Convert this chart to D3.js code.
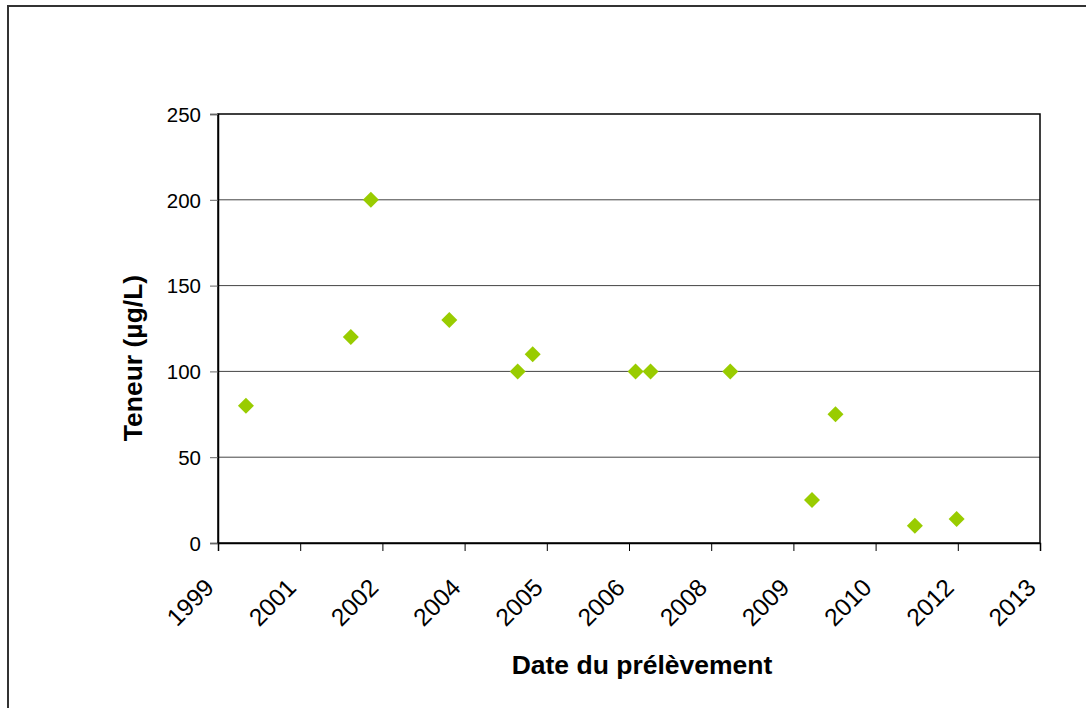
<!DOCTYPE html>
<html>
<head>
<meta charset="utf-8">
<script src="https://cdn.jsdelivr.net/npm/d3@7"></script>
<style>
  body { margin: 0; background: #fff; }
  svg text { font-family: "Liberation Sans", Arial, sans-serif; fill: #000; }
</style>
</head>
<body>
<script>
// sample dates (Excel date axis, major unit 500 days) and values in µg/L
var sampleDates = ["2000-05-28", "2002-02-25", "2002-06-27", "2003-10-17", "2004-12-06",
                   "2005-03-07", "2006-11-23", "2007-02-22", "2008-06-21", "2009-10-31",
                   "2010-03-23", "2011-07-19", "2012-03-29"];
var sampleValues = [80, 120, 200, 130, 100, 110, 100, 100, 100, 25, 75, 10, 14];
var axisStart = "1999-12-10";
var axisStepDays = 500;
var axisSteps = 10;
var yTicks = [0, 50, 100, 150, 200, 250];

var width = 1091,
    height = 708;

var parse = d3.timeParse("%Y-%m-%d");
var data = sampleDates.map(function(d, i) {
  return { date: parse(d), value: sampleValues[i] };
});

var start = parse(axisStart);
var xTicks = d3.range(axisSteps + 1).map(function(i) {
  return d3.timeDay.offset(start, i * axisStepDays);
});

var svg = d3.select("body").append("svg")
    .attr("width", width)
    .attr("height", height);

// outer chart frame (bottom / right edges fall outside the picture)
svg.append("path")
    .attr("d", "M8,720V6H1086")
    .attr("fill", "none")
    .attr("stroke", "#333")
    .attr("stroke-width", 2);

var x = d3.scaleTime()
    .domain([xTicks[0], xTicks[xTicks.length - 1]])
    .range([218, 1040]);

var y = d3.scaleLinear()
    .domain([0, 250])
    .range([543, 114]);

// gridlines
svg.append("g")
  .selectAll("line")
    .data(yTicks.slice(1, -1))
  .enter().append("line")
    .attr("x1", x.range()[0])
    .attr("x2", x.range()[1])
    .attr("y1", function(d) { return y(d); })
    .attr("y2", function(d) { return y(d); })
    .attr("stroke", "#444")
    .attr("stroke-width", 1);

// plot frame
svg.append("rect")
    .attr("x", x.range()[0])
    .attr("y", y.range()[1])
    .attr("width", x.range()[1] - x.range()[0])
    .attr("height", y.range()[0] - y.range()[1])
    .attr("fill", "none")
    .attr("stroke", "#000")
    .attr("stroke-width", 1.5);

// y axis
var yAxis = svg.append("g")
    .attr("transform", "translate(" + x.range()[0] + ",0)")
    .call(d3.axisLeft(y).tickValues(yTicks).tickSize(8).tickPadding(9));
yAxis.select(".domain").attr("stroke", "#000").attr("stroke-width", 1.5);
yAxis.selectAll(".tick line").attr("stroke", "#666");
yAxis.selectAll("text")
    .style("font-size", "20.5px")
    .attr("dy", "0.36em");

// x axis
var xAxis = svg.append("g")
    .attr("transform", "translate(0," + y.range()[0] + ")")
    .call(d3.axisBottom(x).tickValues(xTicks).tickFormat(d3.timeFormat("%Y")).tickSize(8));
xAxis.select(".domain").attr("stroke", "#000").attr("stroke-width", 1.5);
xAxis.selectAll(".tick line").attr("stroke", "#000");
xAxis.selectAll("text")
    .style("font-size", "24.5px")
    .attr("text-anchor", "end")
    .attr("x", 0)
    .attr("y", 0)
    .attr("dy", 0)
    .attr("transform", "translate(-3,46) rotate(-45)");

// excel-style diamond marker, size = half diagonal
var diamond = {
  draw: function(context, r) {
    context.moveTo(0, -r);
    context.lineTo(r, 0);
    context.lineTo(0, r);
    context.lineTo(-r, 0);
    context.closePath();
  }
};

// points
svg.append("g")
  .selectAll("path")
    .data(data)
  .enter().append("path")
    .attr("d", d3.symbol().type(diamond).size(8))
    .attr("transform", function(d) {
      return "translate(" + x(d.date) + "," + y(d.value) + ")";
    })
    .attr("fill", "#99cc00");

// axis titles
svg.append("text")
    .attr("x", 642)
    .attr("y", 674)
    .attr("text-anchor", "middle")
    .style("font-weight", "bold")
    .style("font-size", "26.5px")
    .text("Date du prélèvement");

svg.append("text")
    .attr("transform", "translate(142,358) rotate(-90)")
    .attr("text-anchor", "middle")
    .style("font-weight", "bold")
    .style("font-size", "26.5px")
    .text("Teneur (µg/L)");
</script>
</body>
</html>
